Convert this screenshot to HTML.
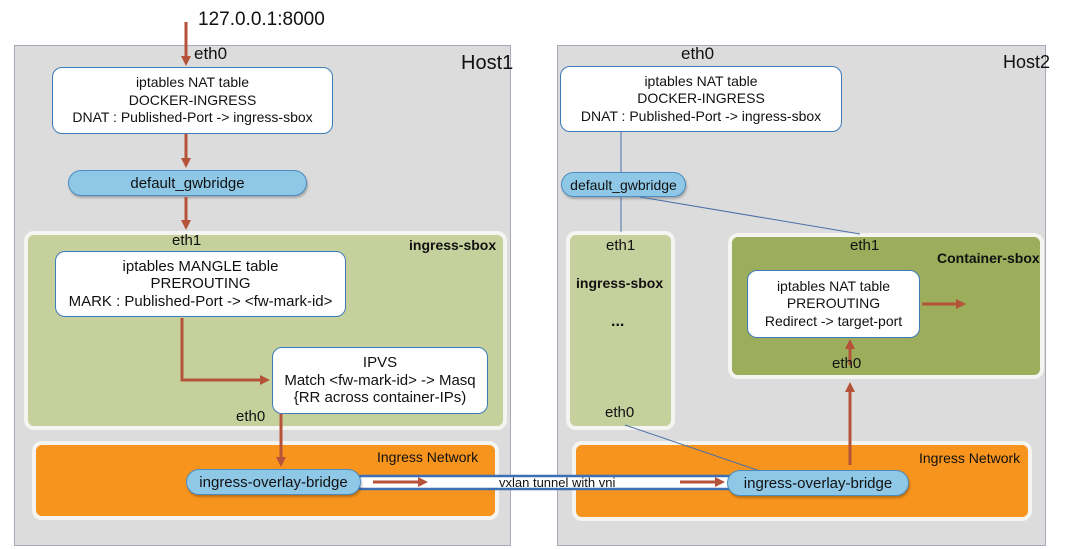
<!DOCTYPE html>
<html><head><style>
body{margin:0;width:1065px;height:549px;background:#fff;position:relative;overflow:hidden;font-family:"Liberation Sans",Arial,sans-serif;}
.a{position:absolute;box-sizing:border-box;}
.host{background:#dcdcdc;border:1.5px solid #a8a8b8;}
.g{background:#c5d09d;border:4px solid #f4f4f0;border-radius:10px;}
.g2{background:#9cad5b;border:4px solid #f4f4f0;border-radius:10px;}
.o{background:#f7941d;border:4px solid #f4f4f0;border-radius:10px;}
.w{background:#fff;border:1.5px solid #3d7bb8;border-radius:10px;text-align:center;font-size:14px;line-height:17.5px;color:#111;display:flex;flex-direction:column;justify-content:center;}
.b{background:#8ec8e6;border:1.5px solid #4b8cc2;border-radius:13px;text-align:center;font-size:15px;color:#111;display:flex;align-items:center;justify-content:center;box-shadow:1px 2px 2px rgba(0,0,0,.25);}
.t{position:absolute;font-size:14px;color:#111;white-space:nowrap;}
</style></head><body>
<div class="a host" style="left:14px;top:45px;width:497px;height:501px"></div>
<div class="a host" style="left:557px;top:45px;width:489px;height:501px"></div>
<div class="t" style="left:461px;top:52px;font-size:20px">Host1</div>
<div class="t" style="left:1003px;top:52px;font-size:18px">Host2</div>
<div class="t" style="left:198px;top:9px;font-size:19px">127.0.0.1:8000</div>
<div class="t" style="left:194px;top:44px;font-size:17px">eth0</div>
<div class="t" style="left:681px;top:44px;font-size:17px">eth0</div>

<div class="a g" style="left:24px;top:231px;width:483px;height:199px"></div>
<div class="a o" style="left:32px;top:441px;width:467px;height:79px"></div>
<div class="a g" style="left:566px;top:231px;width:109px;height:199px"></div>
<div class="a g2" style="left:728px;top:233px;width:316px;height:146px"></div>
<div class="a o" style="left:572px;top:441px;width:460px;height:80px"></div>

<div class="a w" style="left:52px;top:67px;width:281px;height:67px">iptables NAT table<br>DOCKER-INGRESS<br>DNAT : Published-Port -&gt; ingress-sbox</div>
<div class="a w" style="left:560px;top:66px;width:282px;height:66px">iptables NAT table<br>DOCKER-INGRESS<br>DNAT : Published-Port -&gt; ingress-sbox</div>
<div class="a w" style="left:55px;top:251px;width:291px;height:66px;font-size:15px">iptables MANGLE table<br>PREROUTING<br>MARK : Published-Port -&gt; &lt;fw-mark-id&gt;</div>
<div class="a w" style="left:272px;top:347px;width:216px;height:67px;font-size:15px">IPVS<br>Match &lt;fw-mark-id&gt; -&gt; Masq<br>{RR across container-IPs)</div>
<div class="a w" style="left:747px;top:270px;width:173px;height:68px;font-size:14px">iptables NAT table<br>PREROUTING<br>Redirect -&gt; target-port</div>

<div class="a b" style="left:68px;top:170px;width:239px;height:26px">default_gwbridge</div>
<div class="a b" style="left:561px;top:172px;width:125px;height:25px;font-size:14px">default_gwbridge</div>

<svg class="a" style="left:0;top:0" width="1065" height="549">
<g stroke="#4a6fa8" stroke-width="1" fill="none">
<line x1="621" y1="131" x2="621" y2="172"/><line x1="621" y1="197" x2="621" y2="232"/>
<line x1="640" y1="197" x2="860" y2="234"/>
<line x1="625" y1="425" x2="760" y2="471"/>
</g>
<rect x="356" y="476" width="380" height="13" rx="6" fill="#fff" stroke="#3d6fb5" stroke-width="2.5"/>
<g stroke="#b5533a" stroke-width="3" fill="#b5533a">
<line x1="186" y1="22" x2="186" y2="58"/><polygon points="181,56 191,56 186,66" stroke="none"/>
<line x1="186" y1="134" x2="186" y2="160"/><polygon points="181,158 191,158 186,168" stroke="none"/>
<line x1="186" y1="197" x2="186" y2="222"/><polygon points="181,220 191,220 186,230" stroke="none"/>
<polyline points="182,318 182,380 262,380" fill="none"/><polygon points="260,375 270,380 260,385" stroke="none"/>
<line x1="281" y1="414" x2="281" y2="459"/><polygon points="276,457 286,457 281,467" stroke="none"/>
<line x1="373" y1="482" x2="420" y2="482"/><polygon points="418,477 428,482 418,487" stroke="none"/>
<line x1="680" y1="482" x2="717" y2="482"/><polygon points="715,477 725,482 715,487" stroke="none"/>
<line x1="850" y1="465" x2="850" y2="390"/><polygon points="845,392 855,392 850,382" stroke="none"/>
<line x1="850" y1="365" x2="850" y2="348"/><polygon points="845,349 855,349 850,339" stroke="none"/>
<line x1="922" y1="304" x2="958" y2="304"/><polygon points="956,299 966,304 956,309" stroke="none"/>
</g>
</svg>

<div class="a b" style="left:186px;top:469px;width:175px;height:26px">ingress-overlay-bridge</div>
<div class="a b" style="left:727px;top:470px;width:182px;height:26px">ingress-overlay-bridge</div>
<div class="t" style="left:499px;top:475px;font-size:13px">vxlan tunnel with vni</div>

<div class="t" style="left:172px;top:232px;font-size:15px">eth1</div>
<div class="t" style="left:409px;top:237px;font-weight:bold;font-size:14px">ingress-sbox</div>
<div class="t" style="left:236px;top:408px;font-size:15px">eth0</div>
<div class="t" style="left:377px;top:449px;font-size:14px">Ingress Network</div>
<div class="t" style="left:919px;top:450px;font-size:14px">Ingress Network</div>
<div class="t" style="left:606px;top:237px;font-size:15px">eth1</div>
<div class="t" style="left:576px;top:275px;font-weight:bold;font-size:14px">ingress-sbox</div>
<div class="t" style="left:611px;top:313px;font-weight:bold;font-size:16px">...</div>
<div class="t" style="left:605px;top:404px;font-size:15px">eth0</div>
<div class="t" style="left:850px;top:237px;font-size:15px">eth1</div>
<div class="t" style="left:937px;top:250px;font-weight:bold;font-size:14px">Container-sbox</div>
<div class="t" style="left:832px;top:355px;font-size:15px">eth0</div>
</body></html>
